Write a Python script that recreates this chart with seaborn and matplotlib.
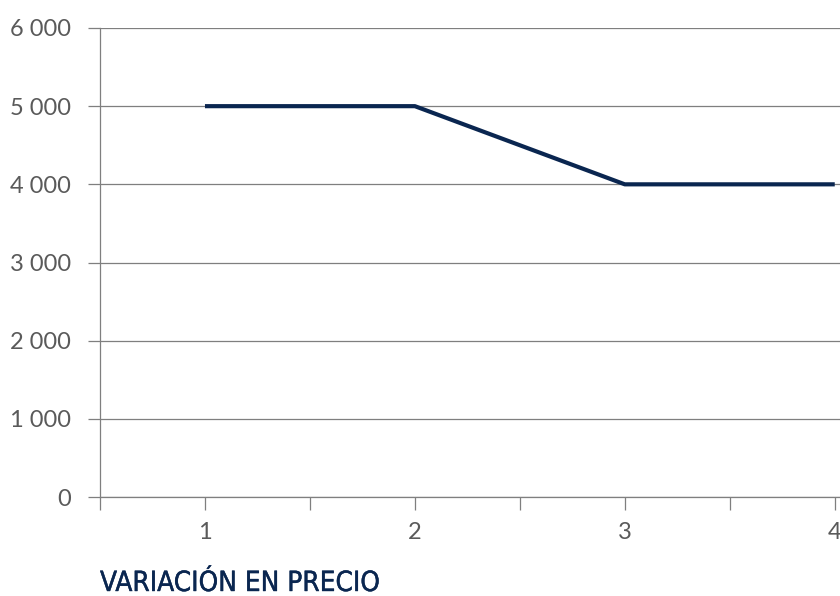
import matplotlib
matplotlib.use("Agg")
import matplotlib.pyplot as plt
import matplotlib.patheffects as pe
from matplotlib.ticker import FixedLocator, FuncFormatter
import seaborn as sns
import pandas as pd

# Price series per period
periodos = [1, 2, 3, 4]
precios = [5000, 5000, 4000, 4000]
y_ticks = [0, 1000, 2000, 3000, 4000, 5000, 6000]
titulo = "VARIACIÓN EN PRECIO"

navy = "#0a2650"
grid_gray = "#7f7f7f"
label_gray = "#5a5a5a"

sns.set_theme(style="white")
plt.rcParams["font.family"] = ["Lato", "DejaVu Sans"]

df = pd.DataFrame({"periodo": periodos, "precio": precios})

fig = plt.figure(figsize=(8.4, 5.96), dpi=100)
ax = fig.add_axes([100 / 840, 1 - 497 / 596, 740 / 840, (497 - 28) / 596])

sns.lineplot(data=df, x="periodo", y="precio", ax=ax, color=navy,
             linewidth=3.0, solid_capstyle="butt", zorder=3)

ax.set_xlim(0.5, 4.025)
ax.set_ylim(0, 6000)

ax.yaxis.set_major_locator(FixedLocator(y_ticks))
ax.yaxis.set_major_formatter(FuncFormatter(lambda v, _: f"{int(v):,}".replace(",", " ")))
ax.xaxis.set_major_locator(FixedLocator(periodos))
ax.xaxis.set_minor_locator(FixedLocator([p - 0.5 for p in periodos]))

ax.grid(axis="y", color=grid_gray, linewidth=0.9)
ax.grid(axis="x", visible=False)
ax.set_axisbelow(True)

for side in ["top", "right"]:
    ax.spines[side].set_visible(False)
ax.spines["left"].set_color(grid_gray)
ax.spines["left"].set_linewidth(0.9)
ax.spines["bottom"].set_color(grid_gray)
ax.spines["bottom"].set_linewidth(0.9)

ax.tick_params(axis="y", which="major", direction="out", length=9, width=0.9,
               color=grid_gray, labelsize=17, labelcolor=label_gray, pad=12,
               left=True)
ax.tick_params(axis="x", which="both", direction="out", length=9, width=0.9,
               color=grid_gray, bottom=True)
ax.tick_params(axis="x", which="major", labelsize=17, labelcolor=label_gray, pad=9)

ax.set_xlabel("")
ax.set_ylabel("")

fig.text(100 / 840, 1 - 591 / 596, titulo, color=navy, fontsize=20,
         fontweight="normal", fontstretch="condensed",
         family=["DejaVu Sans", "Lato"], ha="left", va="baseline",
         path_effects=[pe.Stroke(linewidth=0.3, foreground=navy), pe.Normal()])

fig.savefig("out.png", dpi=100)
